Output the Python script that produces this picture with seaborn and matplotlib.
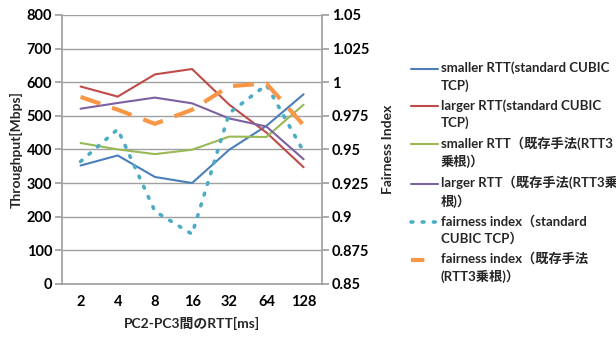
import matplotlib
matplotlib.use("Agg")
import matplotlib.pyplot as plt
import seaborn as sns
import pandas as pd
import numpy as np
from matplotlib.lines import Line2D
from matplotlib.legend_handler import HandlerLine2D

sns.set_theme(style="white")
plt.rcParams['font.family'] = ['Lato', 'Noto Sans CJK JP', 'DejaVu Sans']
plt.rcParams['font.weight'] = 'bold'

rtt_labels = ["2", "4", "8", "16", "32", "64", "128"]
smaller_std = [352, 382, 318, 300, 399, 470, 564]
larger_std = [587, 557, 623, 639, 533, 450, 347]
smaller_new = [419, 400, 386, 399, 438, 437, 533]
larger_new = [521, 538, 554, 537, 492, 468, 371]
fair_std = [0.941, 0.965, 0.904, 0.887, 0.977, 0.998, 0.9485]
fair_new = [0.989, 0.9795, 0.969, 0.9795, 0.997, 0.999, 0.968]

labels = [
    "smaller RTT(standard CUBIC\nTCP)",
    "larger RTT(standard CUBIC\nTCP)",
    "smaller RTT（既存手法(RTT3\n乗根)）",
    "larger RTT（既存手法(RTT3乗\n根)）",
    "fairness index（standard\nCUBIC TCP）",
    "fairness index（既存手法\n(RTT3乗根)）",
]
colors = ["#4a7ebb", "#be4b48", "#98b954", "#7d60a0", "#4bacc6", "#f79646"]

pos = np.arange(len(rtt_labels))

fig = plt.figure(figsize=(6.16, 3.38), dpi=100)
ax = fig.add_axes([0.1006, 0.160, 0.4224, 0.796])
ax2 = ax.twinx()

for vals, c in zip([smaller_std, larger_std, smaller_new, larger_new], colors[:4]):
    df = pd.DataFrame({"x": pos, "y": vals})
    sns.lineplot(data=df, x="x", y="y", ax=ax, color=c, linewidth=1.5, legend=False)

dot_style = (0, (0.5, 2.6))
df = pd.DataFrame({"x": pos, "y": fair_std})
sns.lineplot(data=df, x="x", y="y", ax=ax2, color=colors[4], linewidth=2.6,
             linestyle=dot_style, dash_capstyle="round", legend=False)
df = pd.DataFrame({"x": pos, "y": fair_new})
sns.lineplot(data=df, x="x", y="y", ax=ax2, color=colors[5], linewidth=3.0,
             linestyle=(0, (5, 3)), legend=False)

ax.set_xlim(-0.5, 6.5)
ax.set_ylim(0, 800)
ax.set_yticks(range(0, 801, 100))
ax2.set_ylim(0.85, 1.05)
ax2.set_yticks([0.85, 0.875, 0.9, 0.925, 0.95, 0.975, 1.0, 1.025, 1.05])
ax2.set_yticklabels(["0.85", "0.875", "0.9", "0.925", "0.95", "0.975", "1", "1.025", "1.05"])
ax.set_xticks(pos)
ax.set_xticklabels(rtt_labels)
ax.yaxis.grid(True, color="#a0a0a0", linewidth=1.0)
ax.set_axisbelow(True)

for a in (ax, ax2):
    for s in a.spines.values():
        s.set_visible(False)
    a.tick_params(axis="both", labelsize=10.5, colors="black", length=0, pad=4)
for side in ("left", "right", "bottom"):
    ax2.spines[side].set_visible(True)
    ax2.spines[side].set_color("#a0a0a0")
ax.tick_params(axis="y", length=5, color="#a0a0a0", direction="out", pad=2)
ax2.tick_params(axis="y", length=5, color="#a0a0a0", direction="out", pad=2)
ax.tick_params(axis="x", pad=8)
for t in ax.get_xticklabels() + ax.get_yticklabels() + ax2.get_yticklabels():
    t.set_fontweight("bold")

ax.set_xlabel("PC2-PC3間のRTT[ms]", fontsize=10, fontweight="bold", labelpad=6)
ax.set_ylabel("Throughput[Mbps]", fontsize=10, fontweight="bold", labelpad=3)
ax2.set_ylabel("Fairness Index", fontsize=10, fontweight="bold", labelpad=9)


class UpHandler(HandlerLine2D):
    def __init__(self, shift, **kw):
        super().__init__(**kw)
        self.shift = shift

    def create_artists(self, legend, orig_handle, xdescent, ydescent, width,
                       height, fontsize, trans):
        arts = super().create_artists(legend, orig_handle, xdescent, ydescent,
                                      width, height, fontsize, trans)
        for a in arts:
            if isinstance(a, Line2D):
                a.set_ydata(np.asarray(a.get_ydata(), dtype=float) + self.shift)
        return arts


handles = [
    Line2D([], [], color=colors[0], linewidth=1.5),
    Line2D([], [], color=colors[1], linewidth=1.5),
    Line2D([], [], color=colors[2], linewidth=1.5),
    Line2D([], [], color=colors[3], linewidth=1.5),
    Line2D([], [], color=colors[4], linewidth=2.6, linestyle=dot_style, dash_capstyle="round"),
    Line2D([], [], color=colors[5], linewidth=3.0, linestyle=(0, (3.2, 20))),
]
hmap = {h: UpHandler(6.0) for h in handles}
leg = fig.legend(handles, labels, loc="upper left", bbox_to_anchor=(0.668, 0.818),
                 frameon=False, handlelength=2.0, handletextpad=0.2,
                 labelspacing=0.55, borderpad=0, borderaxespad=0,
                 handler_map=hmap, prop={"weight": "bold", "size": 9.5})
for t in leg.get_texts():
    t.set_linespacing(1.45)

fig.savefig("out.png", dpi=100)
